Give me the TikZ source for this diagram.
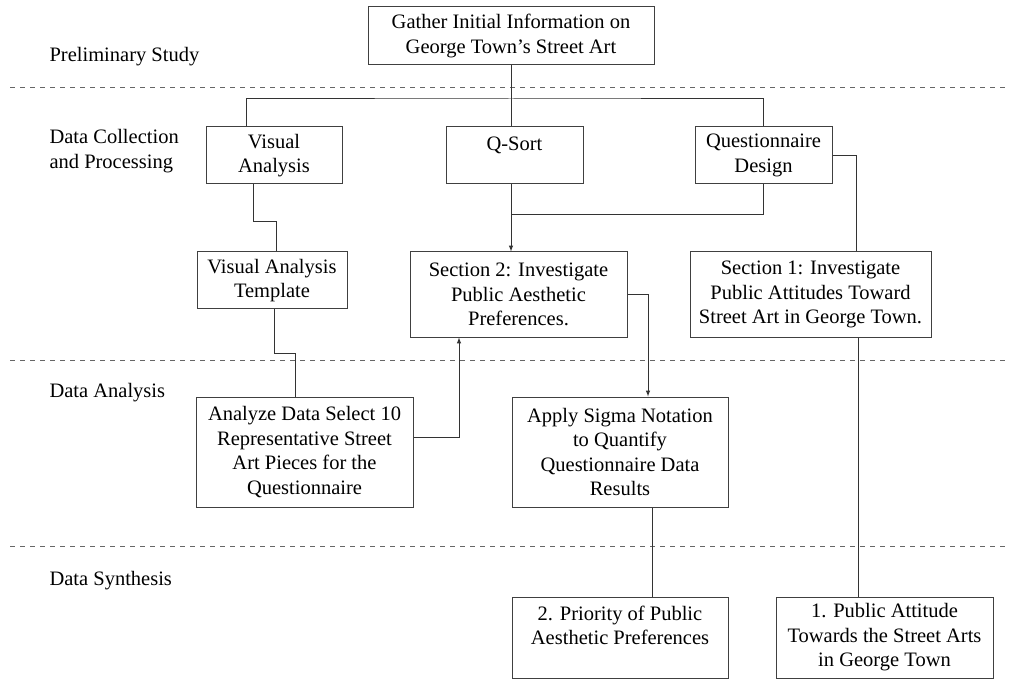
\documentclass[tikz,border=0pt]{standalone}
\usepackage{fontspec}
\setmainfont{Liberation Serif}
\usetikzlibrary{calc}

\begin{document}
\begin{tikzpicture}[x=1pt, y=-1pt, >=latex]

    \useasboundingbox (0,0) rectangle (1010,679);

    \tikzstyle{stepbox}=[draw=black!75, line width=1pt, align=center, inner sep=2pt, font=\fontsize{20.5}{24.5}\selectfont];
    \tikzstyle{lane}=[anchor=west, align=left, font=\fontsize{20.5}{24.5}\selectfont];
    \tikzstyle{link}=[draw=black!80, line width=1pt];
    \tikzstyle{sep}=[draw=black!60, line width=1pt, dash pattern=on 5pt off 5pt];

    \node[lane] (prelim) at (46,57) {Preliminary Study};
    \node[lane] (collect) at (46,151) {Data Collection\\and Processing};
    \node[lane] (analysis) at (46,393) {Data Analysis};
    \node[lane] (synth) at (46,581) {Data Synthesis};

    \draw[sep] (10,88) -- (1010,88);
    \draw[sep] (10,360) -- (1010,360);
    \draw[sep] (10,546) -- (1010,546);

    \node[stepbox, minimum width=286pt, minimum height=58pt] (gather) at (511,36) {Gather Initial Information on\\George Town's Street Art};

    \node[stepbox, minimum width=136pt, minimum height=57pt] (visual) at (274,155.5) {Visual\\Analysis};
    \node[stepbox, minimum width=137pt, minimum height=57pt] (qsort) at ($(visual)+(240.5,0)$) {Q-Sort\\\mbox{}};
    \node[stepbox, minimum width=137pt, minimum height=57pt] (qdesign) at ($(qsort)+(249,0)$) {Questionnaire\\Design};

    \node[stepbox, minimum width=150pt, minimum height=57pt] (template) at (272,280.5) {Visual Analysis\\Template};
    \node[stepbox, minimum width=217pt, minimum height=85pt] (sec2) at (518.5,294.5) {Section 2: Investigate\\Public Aesthetic\\Preferences.};
    \node[stepbox, minimum width=241pt, minimum height=85pt] (sec1) at ($(sec2)+(292,0)$) {Section 1: Investigate\\Public Attitudes Toward\\Street Art in George Town.};

    \node[stepbox, minimum width=217pt, minimum height=110pt] (analyze) at (304.5,452) {Analyze Data Select 10\\Representative Street\\Art Pieces for the\\Questionnaire};
    \node[stepbox, minimum width=216pt, minimum height=110pt] (sigma) at ($(analyze)+(315.5,0)$) {Apply Sigma Notation\\to Quantify\\Questionnaire Data\\Results};

    \node[stepbox, minimum width=216pt, minimum height=81pt] (priority) at ($(sigma)+(0,185.5)$) {2. Priority of Public\\Aesthetic Preferences\\\mbox{}};
    \node[stepbox, minimum width=217pt, minimum height=81pt] (attitude) at ($(priority)+(264.5,0)$) {1. Public Attitude\\Towards the Street Arts\\in George Town};

    \coordinate (split) at (511,99);
    \coordinate (merge) at (511,215);

    \draw[link] (gather.south) -- (gather.south |- qsort.north);
    \draw[link] ([xshift=41pt]visual.north west) |- (split) -| (qdesign.north);
    \draw[link, ->] (gather.south |- qsort.south) -- (gather.south |- sec2.north);
    \draw[link] (qdesign.south) |- (merge);
    \draw[link] (qdesign.east) -| ([xshift=45.5pt]sec1.north);

    \draw[link] ([xshift=-21pt]visual.south) -- ++(0,37) -| ([xshift=4pt]template.north);
    \draw[link] ([xshift=2pt]template.south) -- ++(0,44) -| ([xshift=-9.5pt]analyze.north);

    \draw[link, ->] (sec2.east) -| ([xshift=28pt]sigma.north);
    \draw[link, ->] ([yshift=15pt]analyze.east) -| ([xshift=-59.5pt]sec2.south);

    \draw[link] ([xshift=32pt]sigma.south) -- ([xshift=32pt]priority.north);
    \draw[link] ([xshift=47.5pt]sec1.south) -- ([xshift=-26.5pt]attitude.north);

\end{tikzpicture}
\end{document}
